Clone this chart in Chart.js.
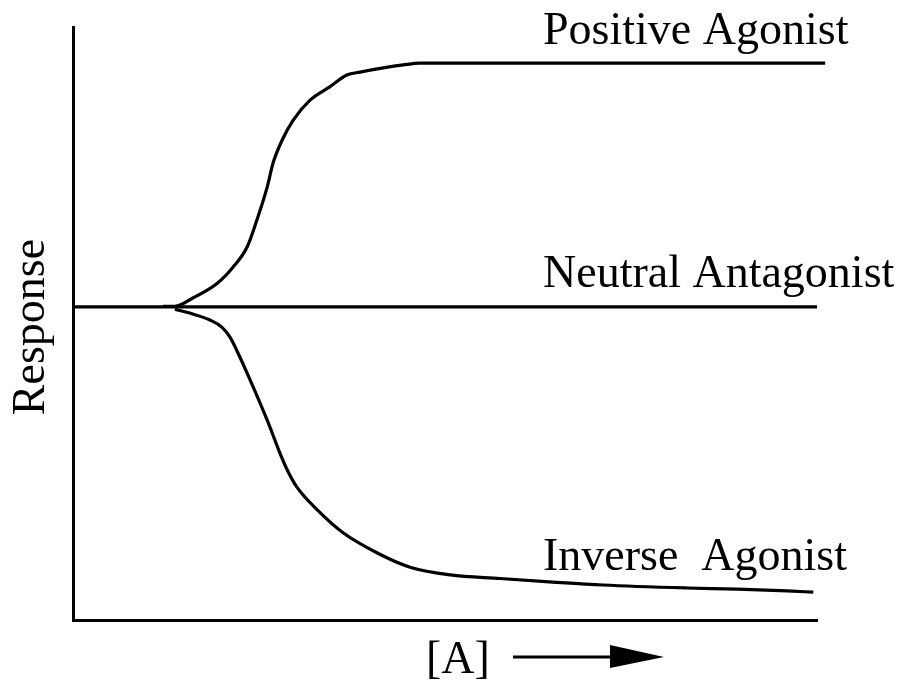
<!DOCTYPE html>
<html>
<head>
<meta charset="utf-8">
<script src="https://cdn.jsdelivr.net/npm/chart.js@4.4.1/dist/chart.umd.min.js"></script>
<style>
  html, body { margin: 0; padding: 0; background: #fff; }
  #wrap { width: 902px; height: 681px; }
</style>
</head>
<body>
<div id="wrap"><canvas id="agonistChart" width="902" height="681"></canvas></div>
<script>
// concentration [A] (arbitrary units, 0..100) and response (arbitrary units, 0..100)
const positiveX = [12.1, 13.7, 16.1, 19.4, 21.5, 23.4, 24.7, 26.1, 26.9, 28.1, 29.6, 31.9, 34.5, 36.8, 38.6, 41.7, 44.4, 46.6, 101.1];
const positiveY = [52.9, 52.9, 54.3, 56.8, 59.5, 62.9, 67.4, 73.0, 77.1, 80.9, 84.3, 87.7, 89.9, 91.9, 92.4, 93.1, 93.6, 93.9, 93.9];

const neutralX = [0, 100];
const neutralY = [52.8, 52.8];

const inverseX = [13.7, 16.1, 18.4, 20.0, 21.1, 22.0, 23.8, 26.1, 27.8, 28.8, 30.1, 32.8, 36.3, 40.9, 45.3, 50.7, 57.4, 64.5, 71.2, 82.5, 89.3, 96.0, 99.5];
const inverseY = [52.4, 51.6, 50.6, 49.4, 47.7, 45.5, 40.5, 33.7, 28.2, 25.3, 22.4, 18.6, 14.7, 11.3, 8.9, 7.6, 7.0, 6.4, 5.9, 5.4, 5.2, 4.9, 4.7];

const seriesLabels = ['Positive Agonist', 'Neutral Antagonist', 'Inverse  Agonist'];
const yAxisLabel = 'Response';
const xAxisLabel = '[A]';

const FONT = '46px "Liberation Serif", "Times New Roman", serif';

function toPoints(xs, ys) {
    return xs.map((x, i) => ({ x: x, y: ys[i] }));
}

function curve(label, xs, ys, smooth) {
    return {
        label: label,
        data: toPoints(xs, ys),
        borderColor: '#000',
        borderWidth: 3.2,
        pointRadius: 0,
        fill: false,
        clip: false,
        tension: 0,
        cubicInterpolationMode: smooth ? 'monotone' : 'default'
    };
}

// text labels and the [A] arrow
const annotationPlugin = {
    id: 'figureText',
    afterDraw(chart) {
        const ctx = chart.ctx;
        ctx.save();
        ctx.fillStyle = '#000';
        ctx.strokeStyle = '#000';
        ctx.font = FONT;
        ctx.textAlign = 'left';
        ctx.textBaseline = 'alphabetic';

        ctx.fillText(seriesLabels[0], 543, 44);
        ctx.fillText(seriesLabels[1], 543, 287);
        ctx.fillText(seriesLabels[2], 543, 570);

        // y axis label
        ctx.save();
        ctx.translate(44, 327);
        ctx.rotate(-Math.PI / 2);
        ctx.textAlign = 'center';
        ctx.fillText(yAxisLabel, 0, 0);
        ctx.restore();

        // x axis label with arrow
        ctx.fillText(xAxisLabel, 426, 673);
        ctx.lineWidth = 3;
        ctx.beginPath();
        ctx.moveTo(513, 657);
        ctx.lineTo(615, 657);
        ctx.stroke();
        ctx.beginPath();
        ctx.moveTo(610, 645);
        ctx.lineTo(664, 657);
        ctx.lineTo(610, 668);
        ctx.closePath();
        ctx.fill();
        ctx.restore();
    }
};

const ctx = document.getElementById('agonistChart').getContext('2d');
new Chart(ctx, {
    type: 'line',
    data: {
        datasets: [
            curve(seriesLabels[0], positiveX, positiveY, true),
            curve(seriesLabels[1], neutralX, neutralY, false),
            curve(seriesLabels[2], inverseX, inverseY, true)
        ]
    },
    options: {
        responsive: false,
        animation: false,
        layout: {
            padding: { left: 73, right: 85, top: 27, bottom: 61 }
        },
        scales: {
            x: {
                type: 'linear',
                min: 0,
                max: 100,
                grid: { display: false, drawTicks: false },
                ticks: { display: false },
                border: { display: true, color: '#000', width: 3 }
            },
            y: {
                type: 'linear',
                min: 0,
                max: 100,
                grid: { display: false, drawTicks: false },
                ticks: { display: false },
                border: { display: true, color: '#000', width: 3 }
            }
        },
        plugins: {
            legend: { display: false },
            tooltip: { enabled: false }
        }
    },
    plugins: [annotationPlugin]
});
</script>
</body>
</html>
